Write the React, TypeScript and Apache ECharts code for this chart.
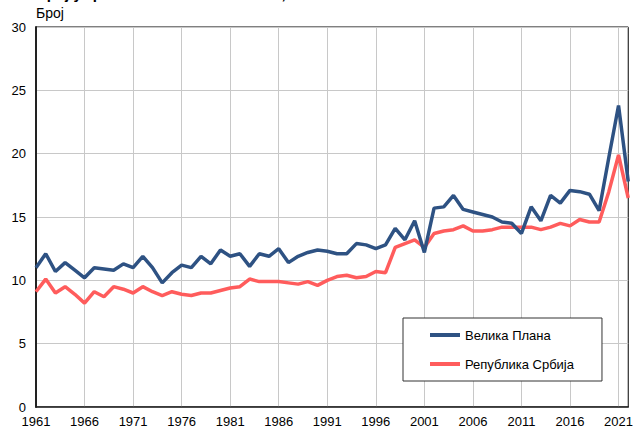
import React, { useEffect, useRef } from "react";
import * as echarts from "echarts";

const years: string[] = [];
for (let y = 1961; y <= 2022; y++) years.push(String(y));

const velikaPlana = [
  11.0, 12.1, 10.7, 11.4, 10.8, 10.2, 11.0, 10.9, 10.8, 11.3,
  11.0, 11.9, 11.0, 9.8, 10.6, 11.2, 11.0, 11.9, 11.3, 12.4,
  11.9, 12.1, 11.1, 12.1, 11.9, 12.5, 11.4, 11.9, 12.2, 12.4,
  12.3, 12.1, 12.1, 12.9, 12.8, 12.5, 12.8, 14.1, 13.2, 14.7,
  12.2, 15.7, 15.8, 16.7, 15.6, 15.4, 15.2, 15.0, 14.6, 14.5,
  13.7, 15.8, 14.7, 16.7, 16.1, 17.1, 17.0, 16.8, 15.5, 19.7,
  23.8, 17.8,
];

const srbija = [
  9.1, 10.1, 9.0, 9.5, 8.9, 8.2, 9.1, 8.7, 9.5, 9.3,
  9.0, 9.5, 9.1, 8.8, 9.1, 8.9, 8.8, 9.0, 9.0, 9.2,
  9.4, 9.5, 10.1, 9.9, 9.9, 9.9, 9.8, 9.7, 9.9, 9.6,
  10.0, 10.3, 10.4, 10.2, 10.3, 10.7, 10.6, 12.6, 12.9, 13.2,
  12.6, 13.7, 13.9, 14.0, 14.3, 13.9, 13.9, 14.0, 14.2, 14.2,
  14.2, 14.2, 14.0, 14.2, 14.5, 14.3, 14.8, 14.6, 14.6, 17.0,
  19.9, 16.5,
];

const seriesNames = ["Велика Плана", "Република Србија"];
const yAxisTitle = "Број";
const chartTitle = "Број умрлих на 1.000 становника, 1961–2022";

const FONT = "'Liberation Sans', Arial, sans-serif";

export default function App() {
  const ref = useRef<HTMLDivElement>(null);
  useEffect(() => {
    if (!ref.current) return;
    const chart = echarts.init(ref.current, undefined, { renderer: "svg" });
    chart.setOption({
      animation: false,
      backgroundColor: "#ffffff",
      textStyle: { fontFamily: FONT },
      grid: {
        left: 36,
        right: 4,
        top: 27,
        bottom: 23,
        show: true,
        borderColor: "#000",
        borderWidth: 1,
        backgroundColor: "transparent",
      },
      graphic: [
        {
          type: "text",
          left: 36,
          top: -14,
          style: {
            text: chartTitle,
            font: `bold 15px ${FONT}`,
            fill: "#000",
          },
        },
        {
          type: "text",
          left: 36,
          top: 6,
          style: {
            text: yAxisTitle,
            font: `14px ${FONT}`,
            fill: "#000",
          },
        },
      ],
      legend: {
        orient: "vertical",
        left: 403,
        top: 318,
        padding: [10, 28, 10, 27],
        itemGap: 15,
        itemWidth: 30,
        itemHeight: 4,
        icon: "rect",
        backgroundColor: "#fff",
        borderColor: "#333",
        borderWidth: 1,
        borderRadius: 0,
        textStyle: {
          fontSize: 13,
          lineHeight: 14,
          color: "#000",
          fontFamily: FONT,
        },
        data: seriesNames,
      },
      xAxis: {
        type: "category",
        data: years,
        boundaryGap: false,
        axisLine: { lineStyle: { color: "#222", width: 1.5 } },
        axisTick: { show: false },
        axisLabel: {
          interval: 4,
          color: "#000",
          fontSize: 13,
          fontFamily: FONT,
          margin: 8,
        },
        splitLine: {
          show: true,
          interval: 4,
          lineStyle: { color: "#c8c8c8", width: 1 },
        },
      },
      yAxis: {
        type: "value",
        min: 0,
        max: 30,
        interval: 5,
        axisLine: { show: true, lineStyle: { color: "#222", width: 2 } },
        axisTick: { show: false },
        axisLabel: {
          color: "#000",
          fontSize: 13,
          fontFamily: FONT,
          margin: 10,
        },
        splitLine: { show: true, lineStyle: { color: "#c8c8c8", width: 1 } },
      },
      series: [
        {
          name: seriesNames[0],
          type: "line",
          data: velikaPlana,
          symbol: "none",
          color: "#2e5283",
          lineStyle: { color: "#2e5283", width: 3.5 },
          z: 3,
        },
        {
          name: seriesNames[1],
          type: "line",
          data: srbija,
          symbol: "none",
          color: "#ff5c5c",
          lineStyle: { color: "#ff5c5c", width: 3.5 },
          z: 2,
        },
      ],
    });
    return () => chart.dispose();
  }, []);
  return (
    <div
      ref={ref}
      style={{ position: "fixed", left: 0, top: 0, width: 636, height: 430 }}
    />
  );
}
